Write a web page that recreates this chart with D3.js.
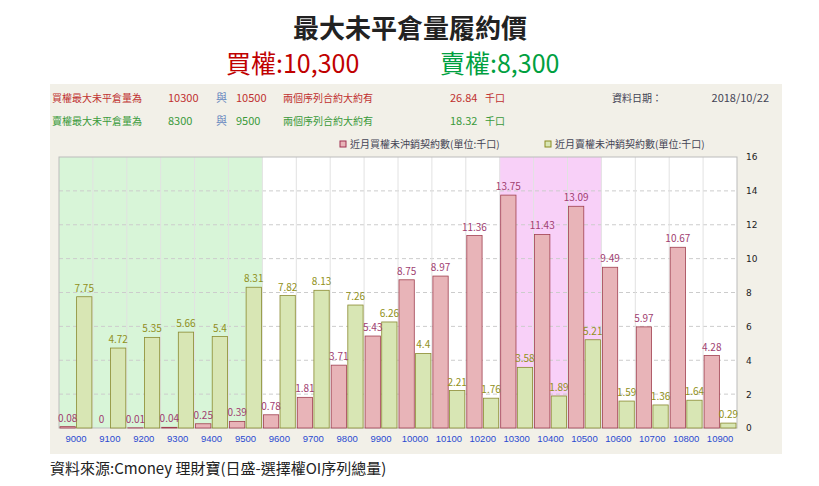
<!DOCTYPE html>
<html><head><meta charset="utf-8">
<script src="https://cdn.jsdelivr.net/npm/d3@7"></script>
<style>body{margin:0;background:#fff;font-family:"Noto Sans CJK TC","Noto Sans",sans-serif}</style>
</head><body><svg id="c" width="819" height="486"></svg>
<script>
const strikes = ["9000","9100","9200","9300","9400","9500","9600","9700","9800","9900","10000","10100","10200","10300","10400","10500","10600","10700","10800","10900"];
const calls = [0.08,0,0.01,0.04,0.25,0.39,0.78,1.81,3.71,5.43,8.75,8.97,11.36,13.75,11.43,13.09,9.49,5.97,10.67,4.28];
const puts = [7.75,4.72,5.35,5.66,5.4,8.31,7.82,8.13,7.26,6.26,4.4,2.21,1.76,3.58,1.89,5.21,1.59,1.36,1.64,0.29];
const yTicks = [0,2,4,6,8,10,12,14,16];
const greenBand = ["9000","9500"], pinkBand = ["10300","10500"];

const svg = d3.select("#c");
const m = {l:59, r:737, t:157, b:428};
const x = d3.scaleBand().domain(strikes).range([m.l, m.r]);
const y = d3.scaleLinear().domain([0,16]).range([m.b, m.t]);
const sub = d3.scaleBand().domain(["c","p"]).range([0, x.bandwidth()]).paddingInner(0.08).paddingOuter(0.06);

svg.append("text").attr("x",410).attr("y",38).attr("text-anchor","middle")
  .attr("font-size",26).attr("font-weight","bold").attr("fill","#222").text("最大未平倉量履約價");
svg.append("text").attr("x",226).attr("y",73).attr("font-size",25).attr("fill","#c00000").text("買權:10,300");
svg.append("text").attr("x",440).attr("y",73).attr("font-size",25).attr("fill","#00a040").text("賣權:8,300");

svg.append("rect").attr("x",50).attr("y",84).attr("width",732).attr("height",370).attr("fill","#f2f0e8");
svg.append("rect").attr("x",m.l).attr("y",m.t).attr("width",m.r-m.l).attr("height",m.b-m.t).attr("fill","#fff");

const info = [
  {y:102, c:"#c03030", a:"買權最大未平倉量為", v1:"10300", v2:"10500", s:"26.84"},
  {y:125, c:"#3a9a3a", a:"賣權最大未平倉量為", v1:"8300", v2:"9500", s:"18.32"}
];
info.forEach(d=>{
  const g = svg.append("g").attr("font-size",11);
  g.append("text").attr("x",52).attr("y",d.y).attr("fill",d.c).attr("font-size",10).text(d.a);
  g.append("text").attr("x",168).attr("y",d.y).attr("fill",d.c).text(d.v1);
  g.append("text").attr("x",216).attr("y",d.y).attr("fill","#6a8ac0").text("與");
  g.append("text").attr("x",236).attr("y",d.y).attr("fill",d.c).text(d.v2);
  g.append("text").attr("x",283).attr("y",d.y).attr("fill",d.c).attr("font-size",10).text("兩個序列合約大約有");
  g.append("text").attr("x",450).attr("y",d.y).attr("fill",d.c).text(d.s);
  g.append("text").attr("x",485).attr("y",d.y).attr("fill",d.c).attr("font-size",10).text("千口");
});
svg.append("text").attr("x",612).attr("y",102).attr("font-size",10).attr("fill","#445").text("資料日期：");
svg.append("text").attr("x",769).attr("y",102).attr("font-size",11).attr("text-anchor","end").attr("fill","#445").text("2018/10/22");

// legend
[{x:340,c:"#e8b4b8",s:"#a03050",t:"近月買權未沖銷契約數(單位:千口)"},{x:545,c:"#d8e6b4",s:"#8a8a20",t:"近月賣權未沖銷契約數(單位:千口)"}].forEach(d=>{
  svg.append("rect").attr("x",d.x).attr("y",141).attr("width",6).attr("height",6).attr("fill",d.c).attr("stroke",d.s);
  svg.append("text").attr("x",d.x+10).attr("y",148).attr("font-size",10).attr("fill","#445").text(d.t);
});

// bands
svg.append("rect").attr("x",x(greenBand[0])).attr("y",m.t).attr("width",x(greenBand[1])+x.bandwidth()-x(greenBand[0])).attr("height",m.b-m.t).attr("fill","#d8f5d8");
svg.append("rect").attr("x",x(pinkBand[0])).attr("y",m.t).attr("width",x(pinkBand[1])+x.bandwidth()-x(pinkBand[0])).attr("height",m.b-m.t).attr("fill","#f8d0f8");

// grid
svg.append("g").selectAll("line").data(yTicks.slice(1,-1)).join("line")
  .attr("x1",m.l).attr("x2",m.r).attr("y1",d=>y(d)).attr("y2",d=>y(d))
  .attr("stroke","#ccc").attr("stroke-dasharray","4,3");
svg.append("g").selectAll("line").data(strikes.slice(1)).join("line")
  .attr("x1",d=>x(d)).attr("x2",d=>x(d)).attr("y1",m.t).attr("y2",m.b).attr("stroke","#e2e2e2");
svg.append("rect").attr("x",m.l).attr("y",m.t).attr("width",m.r-m.l).attr("height",m.b-m.t).attr("fill","none").attr("stroke","#bbb");

// bars
svg.append("g").selectAll("rect").data(calls).join("rect")
  .attr("x",(d,i)=>x(strikes[i])+sub("c")).attr("width",sub.bandwidth())
  .attr("y",d=>y(d)).attr("height",d=>m.b-y(d)).attr("fill","#e8b4b8").attr("stroke","#a04050").attr("stroke-width",0.8);
svg.append("g").selectAll("rect").data(puts).join("rect")
  .attr("x",(d,i)=>x(strikes[i])+sub("p")).attr("width",sub.bandwidth())
  .attr("y",d=>y(d)).attr("height",d=>m.b-y(d)).attr("fill","#d8e6b4").attr("stroke","#8a8a30").attr("stroke-width",0.8);

svg.append("g").selectAll("text").data(calls).join("text")
  .attr("x",(d,i)=>x(strikes[i])+sub("c")+sub.bandwidth()/2).attr("y",d=>y(d)-5)
  .attr("text-anchor","middle").attr("font-size",10).attr("fill","#a04070").text(d=>d);
svg.append("g").selectAll("text").data(puts).join("text")
  .attr("x",(d,i)=>x(strikes[i])+sub("p")+sub.bandwidth()/2).attr("y",d=>y(d)-5)
  .attr("text-anchor","middle").attr("font-size",10).attr("fill","#909020").text(d=>d);

// axes
const ya = svg.append("g").attr("transform",`translate(${m.r+6},0)`).call(d3.axisRight(y).tickValues(yTicks).tickSize(0));
ya.select(".domain").remove();
ya.selectAll("text").attr("font-size",9).attr("fill","#222").attr("font-family","DejaVu Sans");
const xa = svg.append("g").attr("transform",`translate(0,${m.b+4})`).call(d3.axisBottom(x).tickSize(0));
xa.select(".domain").remove();
xa.selectAll("text").attr("font-size",9.5).attr("fill","#2a4ad0").attr("font-family","Liberation Sans");

svg.append("text").attr("x",50).attr("y",474).attr("font-size",15).attr("fill","#222").text("資料來源:Cmoney 理財寶(日盛-選擇權OI序列總量)");
</script></body></html>
